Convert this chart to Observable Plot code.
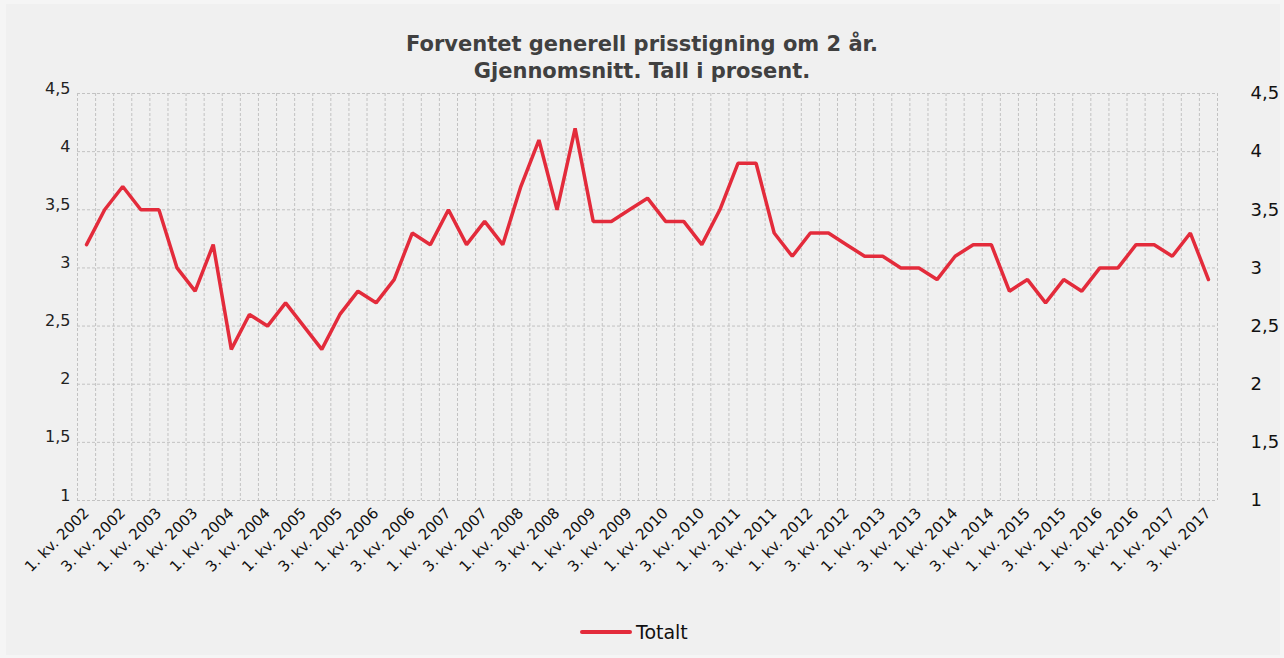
<!DOCTYPE html>
<html>
<head>
<meta charset="utf-8">
<script src="https://cdn.jsdelivr.net/npm/d3@7"></script>
<script src="https://cdn.jsdelivr.net/npm/@observablehq/plot@0.6"></script>
<style>
  html, body { margin: 0; padding: 0; background: #f5f5f5; }
  #panel { position: absolute; left: 6px; top: 4px; width: 1274px; height: 651px; background: #f0f0f0; }
  #wrap { position: absolute; left: 0; top: 0; width: 1284px; height: 658px; }
  #title { position: absolute; left: 0; top: 31px; width: 1284px; text-align: center;
           font-family: "DejaVu Sans", Verdana, sans-serif; font-weight: bold; font-size: 21px;
           line-height: 27px; color: #404040; }
  #legend { position: absolute; left: 580px; top: 619px; height: 26px; display: flex; align-items: center;
            font-family: "DejaVu Sans", Verdana, sans-serif; font-size: 19px; color: #111; }
  #legend .sw { width: 52px; height: 4px; background: #e32b3b; border-radius: 2px; margin-right: 4px; }
  #chart { position: absolute; left: 0; top: 0; }
</style>
</head>
<body>
<div id="panel"></div>
<div id="wrap">
  <div id="chart"></div>
  <div id="title">Forventet generell prisstigning om 2 år.<br>Gjennomsnitt. Tall i prosent.</div>
  <div id="legend"><div class="sw"></div><span>Totalt</span></div>
</div>
<script>
// Quarters 1. kv. 2002 – 3. kv. 2017
const years = [2002,2003,2004,2005,2006,2007,2008,2009,2010,2011,2012,2013,2014,2015,2016,2017];
const quarterNums = [1,2,3,4];
const quarters = [];
years.forEach(y => quarterNums.forEach(q => { if (!(y === 2017 && q === 4)) quarters.push(q + ". kv. " + y); }));

const values = [
  3.2, 3.5, 3.7, 3.5,   // 2002
  3.5, 3.0, 2.8, 3.2,   // 2003
  2.3, 2.6, 2.5, 2.7,   // 2004
  2.5, 2.3, 2.6, 2.8,   // 2005
  2.7, 2.9, 3.3, 3.2,   // 2006
  3.5, 3.2, 3.4, 3.2,   // 2007
  3.7, 4.1, 3.5, 4.2,   // 2008
  3.4, 3.4, 3.5, 3.6,   // 2009
  3.4, 3.4, 3.2, 3.5,   // 2010
  3.9, 3.9, 3.3, 3.1,   // 2011
  3.3, 3.3, 3.2, 3.1,   // 2012
  3.1, 3.0, 3.0, 2.9,   // 2013
  3.1, 3.2, 3.2, 2.8,   // 2014
  2.9, 2.7, 2.9, 2.8,   // 2015
  3.0, 3.0, 3.2, 3.2,   // 2016
  3.1, 3.3, 2.9         // 2017
];

const yTicks = [1, 1.5, 2, 2.5, 3, 3.5, 4, 4.5];
const seriesName = "Totalt";

const data = quarters.map((q, i) => ({i, q, v: values[i]}));
const labelIdx = quarters.map((q, i) => i).filter(i => i % 2 === 0);
const bounds = d3.range(quarters.length + 1).map(k => k - 0.5);
const fmt = d => String(d).replace(".", ",");

const chart = Plot.plot({
  width: 1284,
  height: 620,
  marginTop: 93,
  marginBottom: 120,
  marginLeft: 77,
  marginRight: 67,
  style: {background: "transparent", fontFamily: "DejaVu Sans, Verdana, sans-serif", overflow: "visible"},
  x: {domain: [-0.5, quarters.length - 0.5], axis: null},
  y: {domain: [1, 4.5], axis: null},
  marks: [
    Plot.ruleX(bounds, {stroke: "#c2c2c2", strokeWidth: 1, strokeDasharray: "3,2"}),
    Plot.ruleY(yTicks, {stroke: "#c2c2c2", strokeWidth: 1, strokeDasharray: "3,2"}),
    Plot.axisX(labelIdx, {tickSize: 0, tickRotate: -45, tickPadding: 10, tickFormat: i => quarters[i],
      fontSize: 15, fill: "#111", label: null}),
    Plot.axisY(yTicks, {anchor: "left", tickSize: 0, tickPadding: 7, tickFormat: fmt,
      fontSize: 16, fill: "#222", dy: -5, label: null}),
    Plot.axisY(yTicks, {anchor: "right", tickSize: 0, tickPadding: 21, dx: 12, tickFormat: fmt,
      fontSize: 18, fill: "#111", label: null}),
    Plot.line(data, {x: "i", y: "v", stroke: "#e32b3b", strokeWidth: 3.5, strokeLinejoin: "miter", title: () => seriesName})
  ]
});
document.getElementById("chart").appendChild(chart);
</script>
</body>
</html>
